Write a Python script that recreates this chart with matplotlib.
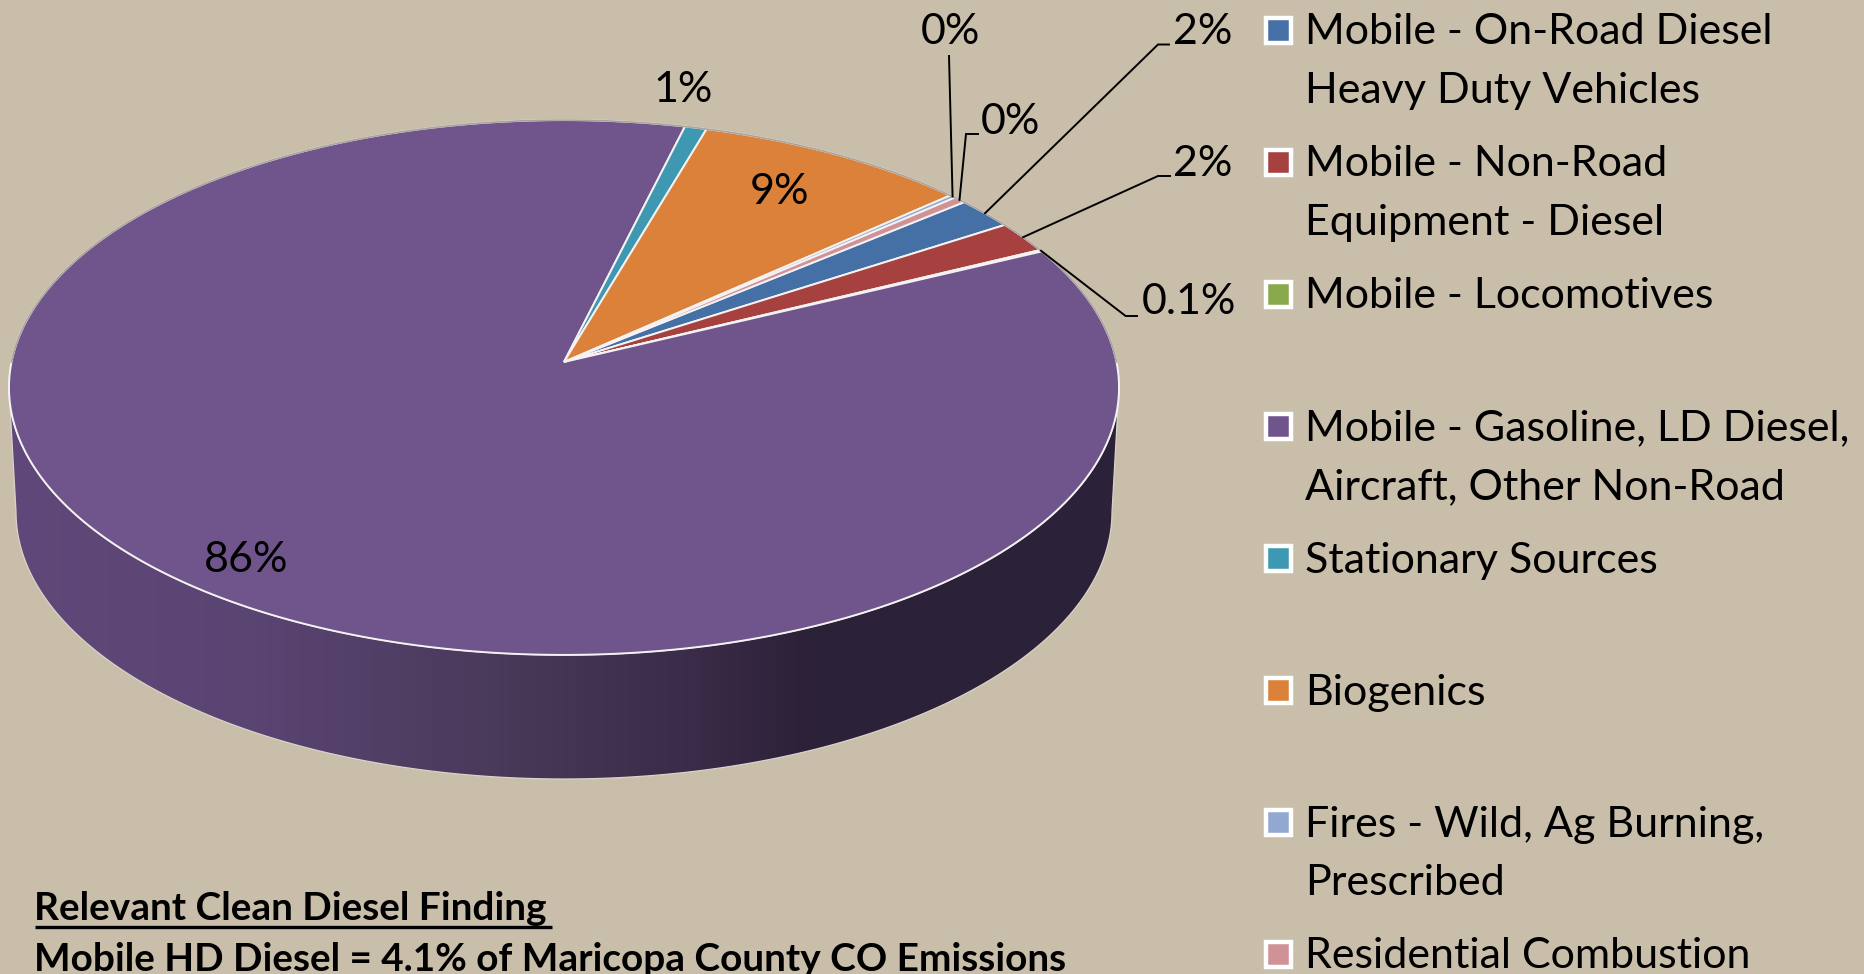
import numpy as np
import matplotlib
matplotlib.use("Agg")
import matplotlib.pyplot as plt
from matplotlib.patches import Polygon, Rectangle
from matplotlib.colors import LinearSegmentedColormap

# ---- data ----
categories = ["Mobile - On-Road Diesel\nHeavy Duty Vehicles",
              "Mobile - Non-Road\nEquipment - Diesel",
              "Mobile - Locomotives",
              "Mobile - Gasoline, LD Diesel,\nAircraft, Other Non-Road",
              "Stationary Sources",
              "Biogenics",
              "Fires - Wild, Ag Burning,\nPrescribed",
              "Residential Combustion"]
values = [1.9, 1.9, 0.1, 86.0, 0.7, 8.8, 0.2, 0.4]
value_labels = ["2%", "2%", "0.1%", "86%", "1%", "9%", "0%", "0%"]
colors = ["#4470a5", "#a64140", "#8aa84c", "#6f558c", "#3f98b1", "#db813a", "#92a8d1", "#d09295"]
finding_title = "Relevant Clean Diesel Finding"
finding_text = "Mobile HD Diesel = 4.1% of Maricopa County CO Emissions"

# ---- layout (figure pixels) ----
BG = "#c9bea9"
FONT = "Lato"
FS = 31.0
W, H = 1864, 974
X0, Y0 = 564.0, 362.0      # apex of the pie as seen in perspective
A, B, K = 552.5, 265.0, 0.0953
START = 50.2               # degrees clockwise from north

fig = plt.figure(figsize=(W / 100, H / 100), dpi=100, facecolor=BG)
ax = fig.add_axes([0, 0, 1, 1])
ax.set_axis_off()


def rim(deg):
    t = np.radians(np.asarray(deg, dtype=float))
    u, v = np.sin(t), np.cos(t)
    w = 1 + K * v
    return X0 + A * u / w, Y0 - B * v / w


# ---- pie side wall with horizontal shading ----
t = np.linspace(np.pi, 0, 240)
top_x, top_y = 564 + 555 * np.cos(t), 388 + 267 * np.sin(t)
bot_x, bot_y = 564 + 548 * np.cos(t), 512 + 267 * np.sin(t)
wall = np.vstack([np.c_[top_x, top_y], np.c_[bot_x, bot_y][::-1]])
wall_patch = Polygon(wall, closed=True, facecolor="none", edgecolor="#d9d3cc", lw=0.9, zorder=3)
ax.add_patch(wall_patch)
cmap = LinearSegmentedColormap.from_list(
    "wall", [(0, "#60497a"), (0.22, "#5a4472"), (0.45, "#493959"),
             (0.62, "#3a2b48"), (0.72, "#2c2138"), (1, "#2b2238")])
grad = np.linspace(0, 1, 512).reshape(1, -1)
img = ax.imshow(grad, cmap=cmap, extent=(9, 1119, 800, 380), aspect="auto", zorder=2)
img.set_clip_path(wall_patch)

# ---- pie top ----
edges = START + np.concatenate([[0], np.cumsum(values)]) * 360 / sum(values)
for i, col in enumerate(colors):
    arc = np.linspace(edges[i], edges[i + 1], max(3, int((edges[i + 1] - edges[i]) * 2)))
    xs, ys = rim(arc)
    pts = np.vstack([[X0, Y0], np.c_[xs, ys]])
    ax.add_patch(Polygon(pts, closed=True, facecolor=col, edgecolor="#f4f2f2",
                         lw=1.4, joinstyle="miter", zorder=4))
# the far half of the rim reads as a thin grey line
ring = rim(np.linspace(-90, 90, 361))
ax.plot(ring[0], ring[1], color="#aaa39c", lw=1.2, zorder=4.5)

mids = (edges[:-1] + edges[1:]) / 2

# ---- data labels and leader lines ----
txt = dict(family=FONT, fontsize=FS, color="black", zorder=6)
label_pos = {0: (1203, 29), 1: (1203, 161), 2: (1189, 300), 3: (246, 557),
             4: (683, 87), 5: (780, 190), 6: (950, 29), 7: (1010, 119)}
leader_elbows = {0: [(1158, 44.5), (1169, 44.5)],
                 1: [(1158, 176), (1170, 176)],
                 2: [(1125.6, 316), (1137, 316)],
                 6: [(949, 56)],
                 7: [(966, 134), (978, 134)]}
for i, lab in enumerate(value_labels):
    x, y = label_pos[i]
    ax.text(x, y + 14.5, lab, ha="center", va="baseline", **txt)
for i, elbow in leader_elbows.items():
    ax_, ay_ = rim(mids[i])
    xs = [float(ax_)] + [p[0] for p in elbow]
    ys = [float(ay_)] + [p[1] for p in elbow]
    ax.plot(xs, ys, color="black", lw=1.4, zorder=5, solid_joinstyle="miter")

# ---- legend ----
legend_y = [30.5, 162.5, 294.5, 426.5, 558.5, 690.5, 822.5, 954.5]
LINE = 58.5
for name, col, y in zip(categories, colors, legend_y):
    ax.add_patch(Rectangle((1266, y - 13), 25, 25, facecolor=col, edgecolor="white",
                           lw=3.2, zorder=5))
    for j, line in enumerate(name.split("\n")):
        ax.text(1305, y + 14 + j * LINE, line, ha="left", va="baseline", **txt)

# ---- finding note ----
bold = dict(family=FONT, fontsize=27.9, fontweight="bold", color="black", zorder=6)
ax.text(34.5, 920, finding_title, ha="left", va="baseline", **bold)
ax.text(34.5, 971, finding_text, ha="left", va="baseline", **bold)
ax.plot([34.5, 552], [926.5, 926.5], color="black", lw=2.4, solid_capstyle="butt", zorder=6)

ax.set_xlim(0, W)
ax.set_ylim(H, 0)
fig.savefig("out.png", dpi=100, facecolor=BG)
